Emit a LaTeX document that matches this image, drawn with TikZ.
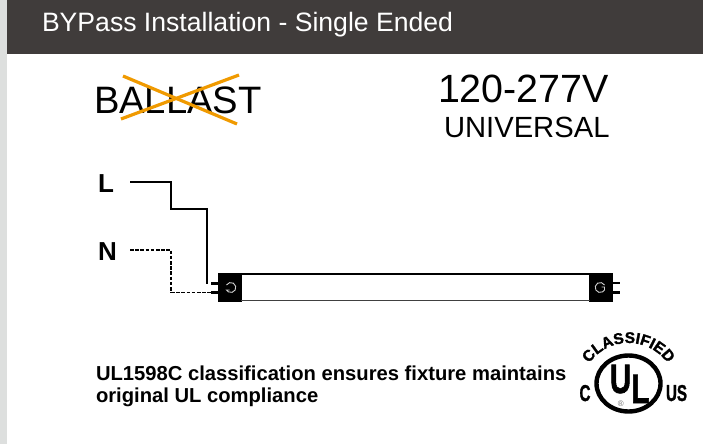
\documentclass[tikz,border=0pt]{standalone}
\usepackage{fontspec}
\setmainfont{Liberation Sans}
\newfontfamily\ulheavy[BoldFeatures={FakeBold=1.6}]{Liberation Sans}
\usetikzlibrary{decorations.text}
\definecolor{crossor}{HTML}{F09A00}
\definecolor{hdr}{HTML}{403C3B}
\definecolor{side}{HTML}{DDDFDE}
\tikzset{
  txt/.style={inner sep=0pt,outer sep=0pt,anchor=base west},
  wire/.style={line width=2.3pt,black,line join=miter},
  nwire/.style={line width=1.3pt,black,dash pattern=on 3.6pt off 1.6pt},
  cross/.style={line width=3.2pt,draw=crossor},
  pin/.style={line width=2.8pt,black},
  sym/.style={draw=white!82!black,line width=.9pt},
  lbl/.style={txt,font=\bfseries\fontsize{26}{28}\selectfont},
  note/.style={txt,font=\bfseries\fontsize{20.2}{22}\selectfont},
  ullet/.style={font=\ulheavy\bfseries\fontsize{41}{41}\selectfont,inner sep=0pt,xscale=.72,anchor=base},
  ulside/.style={font=\ulheavy\bfseries\fontsize{23}{23}\selectfont,inner sep=0pt,xscale=.66,anchor=base}
}
\begin{document}
\begin{tikzpicture}[x=1pt,y=-1pt]
\useasboundingbox (0,0) rectangle (703,444);
\fill[white] (0,0) rectangle (703,444);
\fill[side] (0,0) rectangle (7,444);
\fill[hdr] (7,0) rectangle (703,54);
\node[txt,white,font=\fontsize{26.6}{28}\selectfont] (title) at (42,32) {BYPass Installation - Single Ended};
\node[txt,font=\fontsize{38.2}{40}\selectfont] (ballast) at (94,113) {BALLAST};
\coordinate (xa) at (123,76); \coordinate (xb) at (237,124);
\coordinate (xc) at (121,119); \coordinate (xd) at (239,75);
\draw[cross] (xa) -- (xb);
\draw[cross] (xc) -- (xd);
\node[txt,font=\fontsize{39.4}{41}\selectfont] (volt) at (438,102) {120-277V};
\node[txt,font=\fontsize{29.2}{31}\selectfont] (univ) at (444,137) {UNIVERSAL};
\node[lbl] (L) at (98,192.5) {L};
\node[lbl] (N) at (98,260.5) {N};
% tube
\fill[black] (218,273) rectangle (241.7,301.7);
\fill[black] (589,273) rectangle (612.7,301.7);
\draw[line width=2.4pt] (241,274.2) -- (590,274.2);
\draw[line width=1.4pt,black!75] (241,300.6) -- (590,300.6);
\coordinate (p1) at (218,283.3); \coordinate (p2) at (218,292.3);
\coordinate (q1) at (612,283); \coordinate (q2) at (612,292.5);
\coordinate (pe1) at (211,283.3); \coordinate (pe2) at (211,292.3);
\coordinate (qe1) at (620,283); \coordinate (qe2) at (620,292.5);
\draw[pin] (p1) -- (pe1); \draw[pin] (p2) -- (pe2);
\draw[pin] (q1) -- (qe1); \draw[pin] (q2) -- (qe2);
\draw[sym] (226.5,285) arc (150:-150:5pt) -- ++(3,0);
\draw[sym] (604.5,285) arc (30:330:5pt) -- ++(0,-3) -- ++(-3,0);
% wires
\coordinate (ls) at (130,181.7); \coordinate (ne) at (130,250);
\draw[wire] (ls) -| (170.7,209.3) -| (206.7,284);
\draw[nwire] (ne) -| (171,292.3) -- (pe2);
% text
\node[note] (t1) at (96,380.5) {UL1598C classification ensures fixture maintains};
\node[note] (t2) at (96,402.5) {original UL compliance};
% UL
\draw[line width=4.4pt] (628.5,383.5) ellipse (32pt and 28pt);
\node[ullet] (u) at (620.5,393) {U};
\node[ullet] (l) at (640.5,403) {L};
\node[font=\fontsize{8}{9}\selectfont,inner sep=0pt,black!55] (r) at (620.7,404) {®};
\node[ulside] (c) at (585,401) {C};
\node[ulside] (us) at (676.5,401) {US};
\path[decorate,decoration={text along path,text={|\ulheavy\bfseries\fontsize{15.5}{15.5}\selectfont|CLASSIFIED},text align=center}] (586.9,367) arc (150:30:48pt);
\end{tikzpicture}
\end{document}
